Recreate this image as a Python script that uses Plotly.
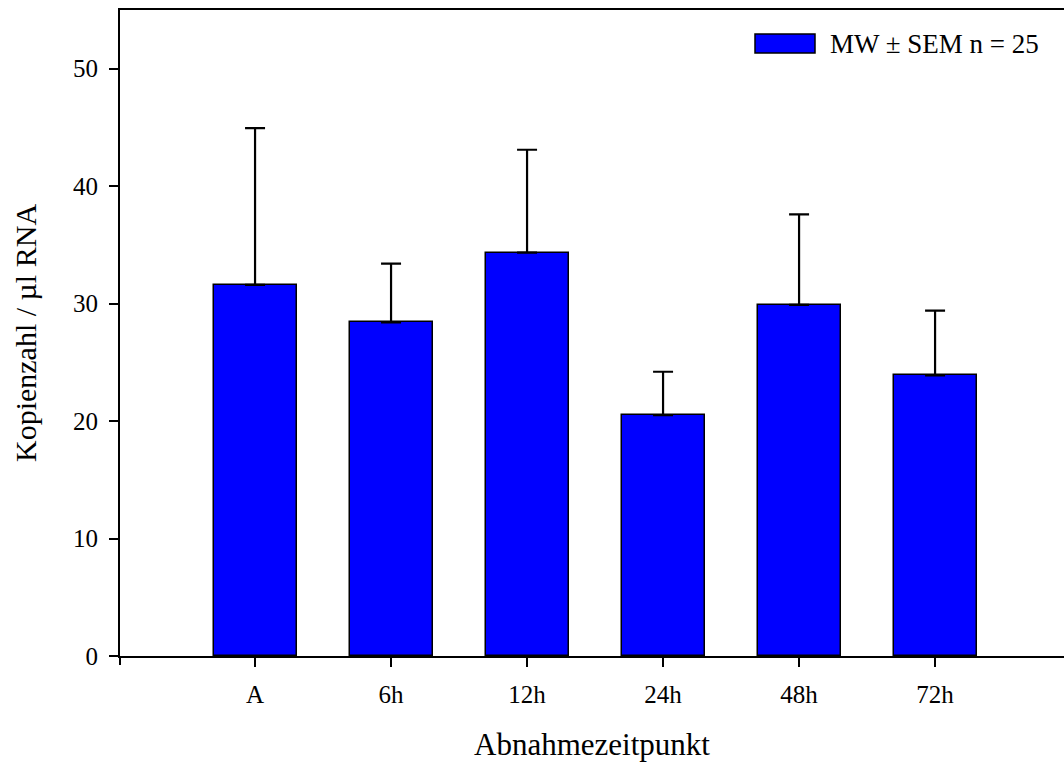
import plotly.graph_objects as go

# Abnahmezeitpunkte and measured means with their standard errors
categories = ["A", "6h", "12h", "24h", "48h", "72h"]
mean_values = [31.6, 28.4, 34.35, 20.5, 29.9, 23.9]
sem_values = [13.35, 5.0, 8.75, 3.7, 7.7, 5.5]
y_ticks = [0, 10, 20, 30, 40, 50]
legend_label = "MW ± SEM n = 25"

font_family = "Liberation Serif, Times New Roman, serif"

fig = go.Figure()
fig.add_trace(go.Bar(
    x=list(range(len(categories))),
    y=mean_values,
    width=0.61,
    marker=dict(color="#0000FF", line=dict(color="black", width=1.5)),
    error_y=dict(type="data", array=sem_values, arrayminus=[0] * len(sem_values),
                 symmetric=False, color="black", thickness=2.2, width=10),
    showlegend=False,
))

fig.update_layout(
    width=1064, height=767,
    margin=dict(l=120, r=0, t=10, b=111),
    paper_bgcolor="white", plot_bgcolor="white",
    font=dict(family=font_family, size=25, color="black"),
    bargap=0,
    xaxis=dict(
        range=[-0.993, 5.948],
        tickmode="array",
        tickvals=list(range(len(categories))),
        ticktext=categories,
        tickfont=dict(size=25),
        ticklabelstandoff=6,
        showline=True, linecolor="black", linewidth=2, mirror=True,
        ticks="outside", ticklen=9, tickwidth=2, tickcolor="black",
        showgrid=False, zeroline=False,
        title=dict(text="Abnahmezeitpunkt", font=dict(size=31), standoff=26),
    ),
    yaxis=dict(
        range=[0, 55],
        tickvals=y_ticks,
        tickfont=dict(size=25),
        ticklabelstandoff=6,
        showline=True, linecolor="black", linewidth=2,
        ticks="outside", ticklen=9, tickwidth=2, tickcolor="black",
        showgrid=False, zeroline=False,
        title=dict(text="Kopienzahl / µl RNA", font=dict(size=30), standoff=28),
    ),
)

# Legend swatch and label drawn in paper coordinates
fig.add_shape(type="rect", xref="paper", yref="paper",
              x0=(755 - 120) / 944, x1=(815 - 120) / 944,
              y0=(656 - 53) / 646, y1=(656 - 34) / 646,
              fillcolor="#0000FF", line=dict(color="black", width=1.5))
fig.add_annotation(xref="paper", yref="paper",
                   x=(828 - 120) / 944, y=(656 - 44) / 646,
                   xanchor="left", yanchor="middle", showarrow=False,
                   text=legend_label, font=dict(size=27))

# small tick below the axis corner
fig.add_shape(type="line", xref="paper", yref="paper",
              x0=0, x1=0, y0=0, y1=-9 / 646,
              line=dict(color="black", width=2))

fig.write_html("out.html")
